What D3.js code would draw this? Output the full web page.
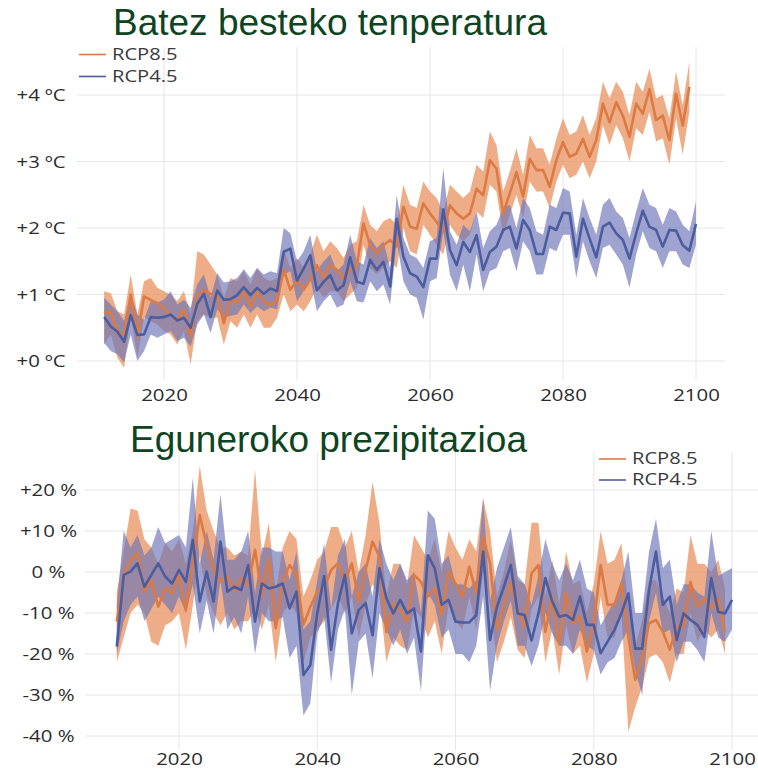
<!DOCTYPE html>
<html>
<head>
  <meta charset="utf-8">
  <script src="https://cdn.jsdelivr.net/npm/d3@7"></script>
  <style>
    body { margin: 0; background: #fff; }
    .title { font-family: "Liberation Sans", Arial, sans-serif; font-size: 37px; fill: #0e4421; }
    .tick text { font-family: "Open Sans", sans-serif; font-size: 17px; fill: #2b2b2b; }
    .legend text { font-family: "Open Sans", sans-serif; font-size: 15.5px; fill: #3a3a3a; }
    .grid line { stroke: #e6e6e6; stroke-width: 1; }
  </style>
</head>
<body>
<script>
// years
var tempYears45 = d3.range(2011, 2101);
var tempYears85 = d3.range(2011, 2100);

// Batez besteko tenperatura (ºC)
var tempRcp45Mean = [0.66,0.52,0.44,0.29,0.69,0.39,0.40,0.66,0.65,0.66,
  0.70,0.61,0.65,0.50,0.86,1.01,0.66,1.06,0.92,0.93,
  0.99,1.11,0.99,1.10,1.01,1.09,1.05,1.64,1.69,1.21,
  1.39,1.59,1.06,1.19,1.29,1.06,1.14,1.56,1.19,1.16,
  1.52,1.37,1.49,1.12,2.14,1.57,1.32,1.27,1.11,1.54,
  1.54,2.28,1.67,1.44,1.79,1.64,1.89,1.37,1.64,1.72,
  1.97,2.02,1.69,2.12,1.97,1.61,1.61,2.02,1.97,2.23,
  2.22,1.57,2.14,1.84,1.56,2.02,2.08,1.92,1.82,1.54,
  1.92,2.26,2.02,1.97,1.72,1.97,1.96,1.74,1.66,2.06];
var tempRcp45Lo = [0.27,0.15,0.10,-0.02,0.40,0.00,0.15,0.40,0.35,0.40,
  0.45,0.30,0.35,0.22,0.55,0.70,0.42,0.78,0.65,0.68,
  0.70,0.85,0.72,0.82,0.75,0.80,0.78,1.30,1.35,0.90,
  1.05,1.25,0.75,0.90,1.00,0.80,0.85,1.20,0.90,0.88,
  1.20,1.05,1.15,0.85,1.80,1.20,1.00,0.95,0.62,1.20,
  1.25,1.95,1.30,1.05,1.45,1.05,1.60,1.05,1.35,1.40,
  1.65,1.70,1.35,1.80,1.65,1.30,1.30,1.70,1.65,1.90,
  1.90,1.25,1.80,1.50,1.25,1.70,1.75,1.60,1.45,1.10,
  1.60,1.95,1.70,1.65,1.40,1.65,1.65,1.45,1.40,1.75];
var tempRcp45Hi = [0.95,0.85,0.75,0.60,1.00,0.70,0.62,0.90,0.88,0.92,
  1.05,0.85,0.92,0.80,1.15,1.30,0.95,1.32,1.18,1.20,
  1.25,1.38,1.25,1.40,1.30,1.35,1.32,2.00,1.92,1.50,
  1.65,1.90,1.35,1.50,1.60,1.35,1.45,1.90,1.50,1.45,
  1.85,1.70,1.80,1.40,2.50,1.85,1.60,1.55,1.40,1.80,
  1.85,2.90,1.95,1.75,2.05,1.95,2.25,1.70,1.95,2.05,
  2.30,2.35,2.00,2.45,2.30,1.95,1.90,2.35,2.30,2.60,
  2.55,1.90,2.45,2.15,1.90,2.35,2.45,2.25,2.15,1.85,
  2.25,2.60,2.35,2.30,2.05,2.30,2.25,2.05,1.95,2.40];
var tempRcp85Mean = [0.72,0.74,0.44,0.39,1.00,0.37,0.97,0.92,0.87,0.79,
  0.69,0.62,0.77,0.37,0.97,1.07,1.01,0.97,0.57,0.94,
  0.87,1.04,0.82,1.04,0.89,0.84,0.92,1.37,1.07,1.22,
  1.07,1.22,1.44,1.25,1.44,1.37,1.24,1.37,1.44,2.07,
  1.74,1.62,1.74,1.82,1.72,2.32,2.02,1.99,2.37,2.22,
  2.09,1.94,2.34,2.22,2.14,2.22,2.59,2.49,3.02,2.89,
  2.22,2.52,2.84,2.47,3.04,2.87,2.87,2.62,3.02,3.29,
  3.07,3.12,3.34,3.07,3.32,3.87,3.59,3.89,3.69,3.37,
  3.87,3.72,4.09,3.62,3.69,3.32,4.02,3.54,4.12];
var tempRcp85Lo = [0.25,0.40,0.05,-0.10,0.70,0.05,0.65,0.60,0.55,0.45,
  0.40,0.25,0.45,-0.05,0.60,0.70,0.65,0.65,0.25,0.60,
  0.50,0.70,0.50,0.70,0.50,0.50,0.65,1.00,0.75,0.85,
  0.75,0.90,1.10,0.95,1.05,1.05,0.90,1.00,1.10,1.75,
  1.40,1.30,1.40,1.50,1.40,2.00,1.65,1.60,2.05,1.90,
  1.75,1.60,2.05,1.90,1.80,1.90,2.25,2.15,2.65,2.55,
  1.90,2.20,2.50,2.15,2.70,2.55,2.55,2.30,2.70,2.95,
  2.75,2.80,3.00,2.75,3.00,3.55,3.25,3.55,3.35,3.00,
  3.50,3.40,3.75,3.30,3.35,2.95,3.65,3.10,3.75];
var tempRcp85Hi = [1.05,1.02,0.75,0.70,1.30,0.70,1.20,1.25,1.10,1.05,
  1.00,0.90,1.05,0.70,1.65,1.60,1.45,1.30,0.95,1.25,
  1.20,1.35,1.15,1.40,1.25,1.20,1.25,1.70,1.40,1.55,
  1.40,1.60,1.90,1.65,1.80,1.70,1.55,1.75,1.80,2.35,
  2.05,1.95,2.10,2.15,2.05,2.65,2.35,2.30,2.70,2.55,
  2.45,2.25,2.65,2.55,2.45,2.55,2.95,2.85,3.45,3.25,
  2.55,2.85,3.20,2.80,3.40,3.20,3.20,2.95,3.35,3.65,
  3.40,3.45,3.70,3.40,3.65,4.20,3.95,4.20,4.05,3.70,
  4.20,4.05,4.40,3.95,4.00,3.65,4.35,3.85,4.50];

// Eguneroko prezipitazioa (%)
var precYears45 = d3.range(2011, 2101);
var precYears85 = d3.range(2011, 2100);
var precRcp45Mean = [-18.2,-0.7,0.1,2.1,-3.6,-0.7,2.1,-1.1,-2.8,0.5,
  -2.4,7.8,-7.2,0.1,-7.2,7.4,-4.8,-3.6,-4.4,1.7,
  -12.1,-2.8,-4.0,-3.6,-2.8,-8.9,-4.8,-25.1,-22.7,-10.1,
  -1.0,-19.0,-7.6,-0.7,-15.0,-9.3,-7.6,-15.4,0.9,-6.4,
  -10.1,-6.8,-10.1,-8.9,-19.4,4.1,0.9,-8.0,-6.8,-12.1,
  -12.3,-12.3,-10.5,5.0,-16.6,-8.5,-3.6,1.7,-10.1,-10.5,
  -16.7,-10.1,-1.5,-7.2,-10.9,-10.5,-11.7,-6.0,-12.9,-12.9,
  -19.8,-17.0,-14.1,-10.1,-5.2,-18.7,-18.7,-4.4,5.0,-8.0,
  -6.0,-16.6,-10.1,-11.7,-12.9,-15.8,-1.5,-9.7,-10.1,-6.8];
var precRcp45Lo = [-20,-12,-8,-6,-12,-9,-6,-8,-10,-6,
  -10,-3,-15,-7,-15,-2,-14,-11,-15,-6,
  -20,-10,-12,-12,-11,-21,-18,-35,-32,-15,
  -11,-27,-14,-9,-30,-17,-15,-26,-10,-14,
  -18,-14,-20,-16,-29,-5,-8,-16,-14,-20,
  -20,-22,-18,-6,-29,-18,-12,-7,-18,-18,
  -23,-18,-10,-15,-18,-18,-20,-14,-18,-19,
  -25,-22,-21,-17,-14,-24,-30,-12,-5,-15,
  -14,-22,-17,-17,-19,-22,-10,-16,-17,-14];
var precRcp45Hi = [-8,10,6,9,4,6,11,7,8,9,
  6,23,2,10,3,19,3,3,5,10,
  -5,6,6,5,5,-2,5,-14,-12,-2,
  7,-9,4,8,-6,0,2,-6,8,2,
  -2,2,-2,0,-10,15,13,2,4,-3,
  -3,-4,-2,18,-7,1,6,11,-1,-3,
  -8,-1,8,2,-2,2,-2,3,-4,-5,
  -13,-10,-7,-2,5,-10,-10,5,13,1,
  3,-8,-3,-3,-5,-6,10,-1,0,1];
var precRcp85Mean = [-12.1,-1.1,2.9,4.6,-4.8,-2.0,-8.5,-4.0,-5.2,-0.7,
  -9.3,1.7,13.9,6.6,0.5,-2.4,-1.1,-4.4,-1.5,-3.2,
  5.4,-5.6,3.3,-13.7,-2.4,1.7,-0.7,-12.9,-8.5,-4.8,
  -4.0,0.5,2.1,-2.4,2.1,-7.2,0.5,7.4,3.7,-14.6,
  -7.6,-9.3,-12.1,-0.7,-2.4,-6.0,-4.0,-10.5,0.1,-2.8,
  -6.0,1.3,-5.2,8.6,2.1,-14.1,-8.5,-2.8,-9.3,-13.3,
  -0.3,1.7,-14.6,-6.0,-17.4,-5.2,-12.5,-10.9,-19.4,-12.5,
  1.7,-8.0,-8.0,-2.8,-15.8,-26.3,-20.7,-12.5,-11.7,-14.6,
  -19.0,-13.3,-13.3,-2.4,-8.5,-6.4,-8.9,-6.4,-14.6];
var precRcp85Lo = [-22,-16,-10,-8,-10,-17,-18,-13,-12,-10,
  -19,-8,4,-6,-10,-13,-10,-14,-12,-12,
  -9,-14,-8,-22,-10,-8,-10,-22,-16,-14,
  -12,-9,-6,-10,-6,-16,-8,-3,-6,-22,
  -16,-18,-19,-9,-11,-16,-12,-20,-8,-12,
  -14,-6,-14,0,-8,-22,-17,-11,-19,-21,
  -9,-6,-22,-14,-25,-13,-20,-18,-27,-20,
  -6,-16,-16,-10,-39,-33,-28,-21,-20,-22,
  -27,-20,-20,-10,-17,-14,-16,-14,-20];
var precRcp85Hi = [-5,5,15.5,15,8,6,2,7,5,8,
  2,10,26,15,10,6,6,4,5,4,
  25,4,12,-5,6,10,8,-6,-2,3,
  5,11,11,6,10,0,9,22,12,-6,
  2,2,-3,9,6,3,8,0,10,6,
  3,8,5,18,10,-6,0,8,-2,-3,
  12,12,-6,3,-8,5,-3,-2,-10,-3,
  10,2,3,7,-8,-18,-12,-2,-2,-6,
  -10,-4,-5,9,2,2,0,3,-4];

var xTicks = [2020, 2040, 2060, 2080, 2100];
var tempTicks = [0, 1, 2, 3, 4];
var tempTickLabels = ["+0 ºC", "+1 ºC", "+2 ºC", "+3 ºC", "+4 ºC"];
var precTicks = [-40, -30, -20, -10, 0, 10, 20];
var precTickLabels = ["-40 %", "-30 %", "-20 %", "-10 %", "0 %", "+10 %", "+20 %"];
var seriesNames = ["RCP8.5", "RCP4.5"];

var c85 = {line: "#dc7a44", band: "rgb(232,145,95)"};
var c45 = {line: "#4b5c9f", band: "rgb(110,115,182)"};
// the source picture is a bit stretched sideways
var stretch = "scale(1.2,1)";
var legStretch = "scale(1.3,1)";

var svg = d3.select("body").append("svg").attr("width", 758).attr("height", 768);

function zip(years, mean, lo, hi) {
  return years.map(function(y, i) { return {year: y, mean: mean[i], lo: lo[i], hi: hi[i]}; });
}

function panel(opt) {
  var g = svg.append("g");
  var x = d3.scaleLinear().domain([2020, 2100]).range(opt.xRange);
  var y = d3.scaleLinear().domain(opt.yDomain).range(opt.yRange);

  var grid = g.append("g").attr("class", "grid");
  grid.selectAll(".h").data(opt.yTicks).enter().append("line")
    .attr("x1", opt.gridX[0]).attr("x2", opt.gridX[1])
    .attr("y1", function(d) { return y(d); }).attr("y2", function(d) { return y(d); });
  grid.selectAll(".v").data(xTicks).enter().append("line")
    .attr("y1", opt.gridY[0]).attr("y2", opt.gridY[1])
    .attr("x1", function(d) { return x(d); }).attr("x2", function(d) { return x(d); });

  var area = d3.area().x(function(d) { return x(d.year); })
    .y0(function(d) { return y(d.lo); }).y1(function(d) { return y(d.hi); });
  var line = d3.line().x(function(d) { return x(d.year); }).y(function(d) { return y(d.mean); });

  g.append("path").datum(opt.d85).attr("d", area).attr("fill", c85.band).attr("fill-opacity", 0.75);
  g.append("path").datum(opt.d45).attr("d", area).attr("fill", c45.band).attr("fill-opacity", 0.66);
  g.append("path").datum(opt.d85).attr("d", line).attr("fill", "none")
    .attr("stroke", c85.line).attr("stroke-width", 2.6).attr("stroke-linejoin", "round");
  g.append("path").datum(opt.d45).attr("d", line).attr("fill", "none")
    .attr("stroke", c45.line).attr("stroke-width", 2.6).attr("stroke-linejoin", "round");

  var ya = g.append("g").attr("transform", "translate(" + opt.yLabelX + ",0)")
    .call(d3.axisLeft(y).tickValues(opt.yTicks).tickSize(0).tickPadding(0)
      .tickFormat(function(d, i) { return opt.yLabels[i]; }));
  ya.select(".domain").remove();
  ya.selectAll("text").attr("text-anchor", "middle").attr("dy", "0.35em").attr("transform", stretch);

  var xa = g.append("g").attr("transform", "translate(0," + opt.xLabelY + ")")
    .call(d3.axisBottom(x).tickValues(xTicks).tickSize(0).tickPadding(0).tickFormat(d3.format("d")));
  xa.select(".domain").remove();
  xa.selectAll("text").attr("dy", "0.35em").attr("transform", stretch);

  g.append("text").attr("class", "title").attr("x", opt.titleX).attr("y", opt.titleY).text(opt.title);

  var leg = g.append("g").attr("class", "legend");
  seriesNames.forEach(function(n, i) {
    var ly = opt.legY + i * opt.legStep;
    leg.append("line").attr("x1", opt.legX).attr("x2", opt.legX + 27).attr("y1", ly).attr("y2", ly)
      .attr("stroke", i === 0 ? c85.line : c45.line).attr("stroke-width", 1.6);
    leg.append("text").attr("transform", "translate(" + (opt.legX + 33) + "," + ly + ") " + legStretch)
      .attr("dy", "0.35em").text(n);
  });
}

panel({
  xRange: [164, 696], yDomain: [0, 4], yRange: [361, 95],
  gridX: [77, 725], gridY: [47, 380],
  yTicks: tempTicks, yLabels: tempTickLabels, yLabelX: 41, xLabelY: 395,
  d85: zip(tempYears85, tempRcp85Mean, tempRcp85Lo, tempRcp85Hi),
  d45: zip(tempYears45, tempRcp45Mean, tempRcp45Lo, tempRcp45Hi),
  title: "Batez besteko tenperatura", titleX: 113, titleY: 35,
  legX: 79, legY: 54.5, legStep: 22
});

panel({
  xRange: [179, 732], yDomain: [-40, 20], yRange: [736, 490],
  gridX: [85, 758], gridY: [452, 750],
  yTicks: precTicks, yLabels: precTickLabels, yLabelX: 48.5, xLabelY: 759,
  d85: zip(precYears85, precRcp85Mean, precRcp85Lo, precRcp85Hi),
  d45: zip(precYears45, precRcp45Mean, precRcp45Lo, precRcp45Hi),
  title: "Eguneroko prezipitazioa", titleX: 130, titleY: 452,
  legX: 599, legY: 459, legStep: 21
});
</script>
</body>
</html>
